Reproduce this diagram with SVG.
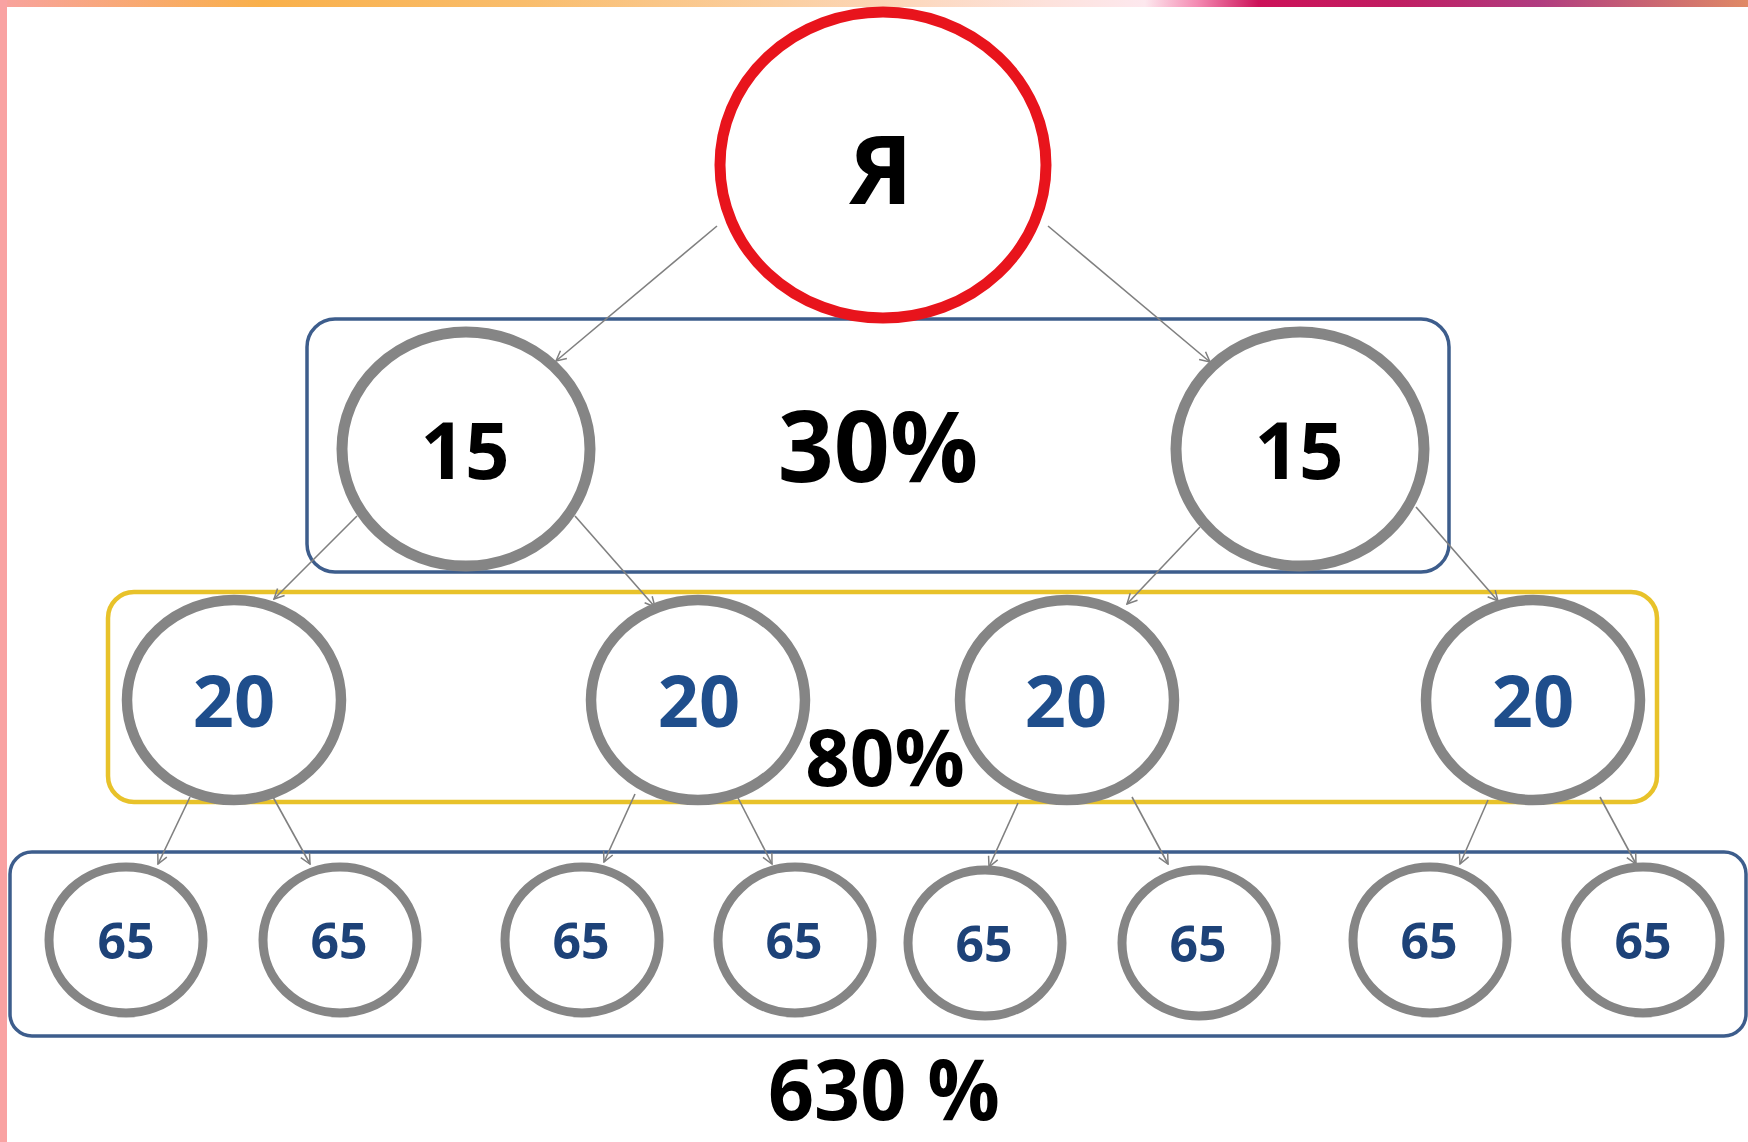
<svg xmlns="http://www.w3.org/2000/svg" width="1748" height="1142" viewBox="0 0 1748 1142">
<defs>
<linearGradient id="topbar" x1="0" y1="0" x2="1" y2="0">
<stop offset="0" stop-color="#f8a29e"/>
<stop offset="0.15" stop-color="#f9b04a"/>
<stop offset="0.3" stop-color="#f9bd6c"/>
<stop offset="0.45" stop-color="#fbcfa2"/>
<stop offset="0.6" stop-color="#fde2dc"/>
<stop offset="0.655" stop-color="#fde8ee"/>
<stop offset="0.685" stop-color="#f48ab2"/>
<stop offset="0.72" stop-color="#cc1158"/>
<stop offset="0.8" stop-color="#c01d62"/>
<stop offset="0.88" stop-color="#b03c80"/>
<stop offset="1" stop-color="#e08a66"/>
</linearGradient>
<marker id="arr" viewBox="0 0 12 12" refX="11" refY="6" markerWidth="12" markerHeight="12" markerUnits="userSpaceOnUse" orient="auto">
<path d="M1,1 L11,6 L1,11" fill="none" stroke="#7f7f7f" stroke-width="1.5"/>
</marker>
</defs>
<style>
.gc{fill:#fff;stroke:#858585}
.t{font-family:"Open Sans","Noto Sans","Liberation Sans",sans-serif;font-weight:bold;text-anchor:middle}
.k{fill:#000}
.b{fill:#1f4e8c}
.b2{fill:#1d4278}
.ln{stroke:#808080;stroke-width:1.6;fill:none;marker-end:url(#arr)}
</style>
<rect x="0" y="0" width="1748" height="1142" fill="#fff"/>
<rect x="0" y="0" width="1748" height="7" fill="url(#topbar)"/>
<rect x="0" y="0" width="7" height="1142" fill="#f9a2a2"/>

<g id="group-level1"><rect x="307" y="319" width="1142" height="253" rx="28" fill="none" stroke="#3d5d8c" stroke-width="3.5"/></g>
<g id="group-level2"><rect x="108" y="592" width="1549" height="210" rx="26" fill="none" stroke="#e8c22a" stroke-width="4.5"/></g>
<g id="group-level3"><rect x="10" y="852" width="1736" height="184" rx="22" fill="none" stroke="#3d5d8c" stroke-width="3.5"/></g>

<g id="connectors">
<line class="ln" x1="717" y1="226" x2="556" y2="361"/>
<line class="ln" x1="1048" y1="226" x2="1210" y2="362"/>
<line class="ln" x1="357" y1="516" x2="274" y2="599"/>
<line class="ln" x1="575" y1="516" x2="655" y2="607"/>
<line class="ln" x1="1200" y1="527" x2="1127" y2="604"/>
<line class="ln" x1="1416" y1="507" x2="1498" y2="601"/>
<line class="ln" x1="190" y1="797" x2="158" y2="864"/>
<line class="ln" x1="273" y1="797" x2="310" y2="864"/>
<line class="ln" x1="635" y1="794" x2="604" y2="862"/>
<line class="ln" x1="736" y1="794" x2="772" y2="864"/>
<line class="ln" x1="1018" y1="803" x2="989" y2="867"/>
<line class="ln" x1="1132" y1="797" x2="1168" y2="864"/>
<line class="ln" x1="1488" y1="800" x2="1460" y2="864"/>
<line class="ln" x1="1600" y1="797" x2="1636" y2="864"/>
</g>

<g id="node-ya">
<ellipse cx="883" cy="165" rx="163" ry="153" fill="#fff" stroke="#e8141c" stroke-width="11"/>
<text class="t k" x="881" y="204" font-size="95">Я</text>
</g>

<g id="node-15-left"><ellipse class="gc" cx="466" cy="449" rx="124" ry="117" stroke-width="11"/><text class="t k" x="465" y="479" font-size="78">15</text></g>
<g id="node-15-right"><ellipse class="gc" cx="1300" cy="449" rx="124" ry="117" stroke-width="11"/><text class="t k" x="1299" y="479" font-size="78">15</text></g>
<g id="label-30"><text class="t k" x="878" y="482" font-size="98">30%</text></g>

<g id="node-20-1"><ellipse class="gc" cx="234" cy="700" rx="107" ry="100" stroke-width="10.5"/><text class="t b" x="234" y="727" font-size="72">20</text></g>
<g id="node-20-2"><ellipse class="gc" cx="698" cy="700" rx="107" ry="100" stroke-width="10.5"/><text class="t b" x="699" y="727" font-size="72">20</text></g>
<g id="node-20-3"><ellipse class="gc" cx="1067" cy="700" rx="107" ry="100" stroke-width="10.5"/><text class="t b" x="1066" y="727" font-size="72">20</text></g>
<g id="node-20-4"><ellipse class="gc" cx="1533" cy="700" rx="107" ry="100" stroke-width="10.5"/><text class="t b" x="1533" y="727" font-size="72">20</text></g>
<g id="label-80"><text class="t k" x="885" y="786" font-size="78">80%</text></g>

<g id="node-65-1"><ellipse class="gc" cx="126" cy="940" rx="77" ry="73" stroke-width="9"/><text class="t b2" x="126" y="959" font-size="50">65</text></g>
<g id="node-65-2"><ellipse class="gc" cx="340" cy="940" rx="77" ry="73" stroke-width="9"/><text class="t b2" x="339" y="959" font-size="50">65</text></g>
<g id="node-65-3"><ellipse class="gc" cx="582" cy="940" rx="77" ry="73" stroke-width="9"/><text class="t b2" x="581" y="959" font-size="50">65</text></g>
<g id="node-65-4"><ellipse class="gc" cx="795" cy="940" rx="77" ry="73" stroke-width="9"/><text class="t b2" x="794" y="959" font-size="50">65</text></g>
<g id="node-65-5"><ellipse class="gc" cx="985" cy="943" rx="77" ry="73" stroke-width="9"/><text class="t b2" x="984" y="962" font-size="50">65</text></g>
<g id="node-65-6"><ellipse class="gc" cx="1199" cy="943" rx="77" ry="73" stroke-width="9"/><text class="t b2" x="1198" y="962" font-size="50">65</text></g>
<g id="node-65-7"><ellipse class="gc" cx="1430" cy="940" rx="77" ry="73" stroke-width="9"/><text class="t b2" x="1429" y="959" font-size="50">65</text></g>
<g id="node-65-8"><ellipse class="gc" cx="1643" cy="940" rx="77" ry="73" stroke-width="9"/><text class="t b2" x="1643" y="959" font-size="50">65</text></g>

<g id="label-630"><text class="t k" x="884" y="1120" font-size="84" textLength="232" lengthAdjust="spacingAndGlyphs">630 %</text></g>
</svg>
